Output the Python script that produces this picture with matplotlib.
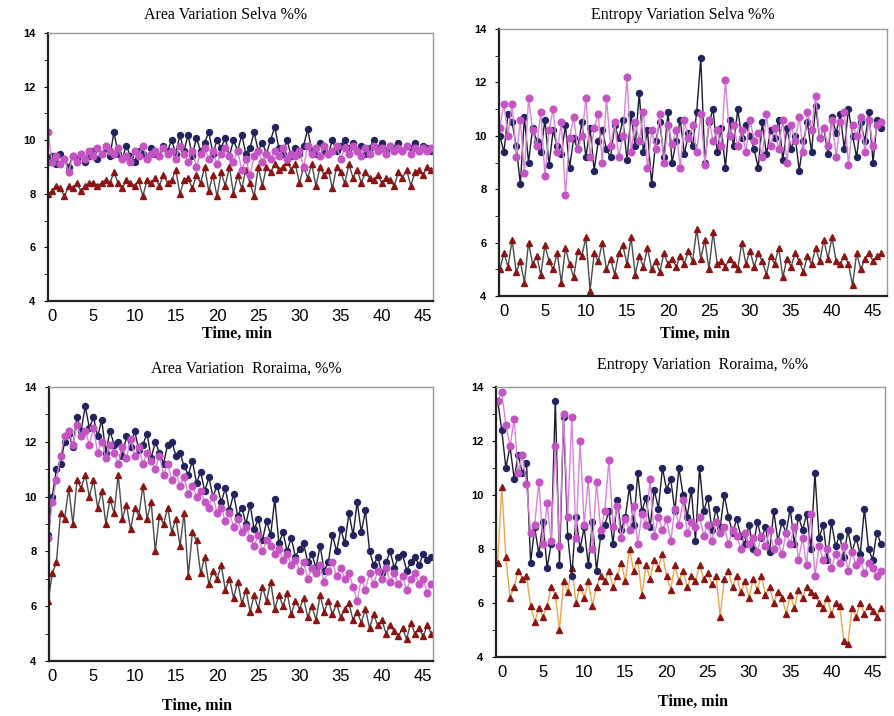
import matplotlib
matplotlib.use("Agg")
import matplotlib.pyplot as plt
import numpy as np

# sampled every 0.5 min starting at t = -0.5
area_selva_blue = [9.2, 9.4, 9.1, 9.5, 9.3, 9.0, 9.4, 9.3, 9.5, 9.2, 9.4, 9.6, 9.3, 9.5, 9.7, 9.4, 10.3, 9.5, 9.3, 9.8,
                   9.4, 9.2, 9.6, 9.5, 9.3, 9.7, 9.5, 9.4, 9.8, 9.6, 10.0, 9.5, 10.2, 9.6, 10.2, 9.4, 10.1, 9.6, 9.9, 10.3,
                   9.5, 10.0, 9.7, 10.1, 9.4, 10.0, 9.6, 10.2, 9.5, 9.7, 10.3, 9.6, 9.9, 9.5, 10.0, 10.5, 9.7, 9.5, 10.0, 9.4,
                   9.7, 9.5, 9.8, 10.4, 9.6, 9.5, 9.9, 9.6, 9.5, 10.0, 9.6, 9.8, 10.0, 9.7, 9.9, 9.6, 9.8, 9.5, 9.7, 10.0,
                   9.7, 9.9, 9.6, 9.8, 9.7, 9.9, 9.6, 9.8, 9.7, 9.9, 9.6, 9.8, 9.7, 9.6]
area_selva_pink = [10.3, 9.2, 9.4, 9.1, 9.3, 8.8, 9.4, 9.2, 9.5, 9.3, 9.6, 9.4, 9.7, 9.5, 9.8, 9.6, 9.5, 9.7, 9.3, 9.4,
                   9.2, 9.6, 9.4, 9.8, 9.3, 9.5, 9.6, 9.4, 9.7, 9.5, 9.6, 9.3, 9.8, 9.5, 9.2, 9.6, 9.0, 9.5, 9.7, 9.3,
                   9.6, 9.1, 9.5, 9.7, 9.4, 9.2, 9.6, 8.9, 9.3, 8.7, 9.4, 9.6, 9.2, 9.5, 9.3, 9.6, 9.4, 9.7, 9.3, 9.5,
                   9.4, 9.6, 9.0, 9.8, 9.5, 9.7, 9.4, 9.8, 9.5, 9.6, 9.8, 9.3, 9.7, 9.5, 9.8, 9.6, 9.4, 9.7, 9.5, 9.8,
                   9.6, 9.7, 9.5, 9.8, 9.6, 9.7, 9.6, 9.8, 9.5, 9.7, 9.6, 9.7, 9.6, 9.7]
area_selva_red = [8.0, 8.1, 8.3, 8.2, 7.9, 8.3, 8.2, 8.4, 8.1, 8.3, 8.4, 8.4, 8.3, 8.4, 8.5, 8.4, 8.8, 8.4, 8.2, 8.5,
                  8.4, 8.3, 8.5, 7.9, 8.5, 8.4, 8.6, 8.3, 8.7, 8.4, 8.5, 8.9, 8.0, 8.5, 8.6, 8.2, 8.7, 8.4, 9.0, 8.1,
                  8.7, 7.9, 8.8, 8.3, 9.0, 8.0, 8.7, 8.2, 8.9, 8.4, 7.9, 9.0, 8.3, 9.0, 8.8, 9.1, 8.9, 9.0, 9.2, 8.9,
                  9.1, 8.4, 9.0, 8.6, 9.1, 8.3, 9.0, 8.7, 8.9, 8.2, 9.0, 8.8, 8.4, 9.1, 8.6, 8.9, 8.4, 8.8, 8.6, 8.5,
                  8.7, 8.4, 8.6, 8.5, 8.3, 8.8, 8.6, 8.9, 8.3, 8.8, 8.9, 8.7, 9.0, 8.9]

entropy_selva_blue = [10.0, 9.4, 10.8, 10.5, 9.6, 8.2, 10.7, 9.0, 10.3, 9.8, 9.4, 10.6, 8.9, 10.2, 9.6, 9.3, 10.4, 8.8,
                      9.9, 9.5, 10.5, 9.2, 10.3, 8.7, 9.8, 10.2, 9.5, 9.2, 10.4, 9.9, 10.6, 9.1, 10.8, 9.6, 11.6, 9.4,
                      10.2, 8.2, 9.8, 10.5, 9.2, 10.9, 9.0, 9.8, 10.6, 9.3, 10.1, 9.6, 10.9, 12.9, 9.0, 10.5, 11.0, 9.4,
                      10.3, 8.8, 10.6, 9.6, 11.0, 9.9, 10.4, 10.0, 9.5, 8.8, 10.5, 9.3, 10.2, 9.9, 10.6, 9.1, 10.3, 9.5,
                      10.0, 8.7, 9.8, 10.5, 9.4, 11.1, 9.9, 10.3, 9.3, 10.7, 10.1, 10.8, 9.5, 11.0, 10.0, 9.2, 10.5, 9.8,
                      10.9, 9.0, 10.6, 10.3]
entropy_selva_pink = [10.3, 11.2, 10.0, 11.2, 9.2, 10.6, 8.6, 11.4, 10.2, 9.6, 10.9, 8.5, 10.2, 11.0, 9.4, 10.5, 7.8, 9.9,
                      10.7, 9.5, 10.0, 11.4, 9.2, 10.3, 10.8, 9.0, 11.4, 9.6, 10.5, 9.2, 10.0, 12.2, 9.4, 10.5, 9.8, 10.9,
                      8.8, 10.2, 9.5, 10.8, 9.0, 10.4, 9.7, 10.2, 8.8, 10.6, 9.9, 10.4, 9.4, 10.8, 8.9, 10.6, 9.8, 10.2,
                      9.6, 12.1, 10.0, 10.4, 9.6, 10.2, 9.4, 10.6, 9.8, 10.1, 9.2, 10.8, 9.6, 10.3, 9.5, 10.6, 9.0, 10.4,
                      9.8, 10.7, 9.4, 10.9, 10.2, 11.5, 9.9, 10.3, 9.6, 10.6, 9.2, 10.5, 10.9, 8.9, 10.4, 10.0, 10.7, 9.4,
                      10.6, 9.6, 10.4, 10.5]
entropy_selva_red = [5.0, 5.6, 5.1, 6.1, 4.9, 5.3, 4.5, 6.0, 5.2, 5.5, 4.8, 5.9, 5.3, 5.0, 5.6, 4.5, 5.8, 5.2, 4.7, 5.7,
                     5.5, 6.2, 4.2, 5.6, 5.3, 6.0, 5.0, 5.4, 4.8, 5.6, 5.9, 5.2, 6.2, 4.8, 5.5, 5.1, 5.8, 5.0, 5.3, 4.9,
                     5.6, 5.2, 5.4, 5.1, 5.5, 5.2, 5.7, 5.3, 6.5, 5.4, 6.1, 5.0, 6.4, 5.2, 5.3, 5.1, 5.4, 5.2, 5.0, 6.0,
                     5.2, 5.7, 5.1, 5.6, 5.3, 4.8, 5.5, 5.2, 5.8, 4.7, 5.4, 5.1, 5.6, 5.3, 4.9, 5.5, 5.2, 5.8, 5.3, 6.1,
                     5.4, 6.2, 5.3, 5.2, 5.5, 5.2, 4.4, 5.6, 5.0, 5.4, 5.6, 5.3, 5.5, 5.6]

area_roraima_blue = [8.6, 10.0, 11.0, 11.2, 12.0, 12.3, 11.8, 12.9, 12.4, 13.3, 12.5, 12.9, 12.2, 12.8, 11.6, 12.4, 11.9,
                     12.0, 11.5, 12.2, 11.8, 12.4, 11.7, 11.9, 12.3, 11.4, 12.0, 11.6, 11.2, 11.9, 12.0, 11.5, 11.6,
                     11.1, 10.8, 11.3, 10.5, 10.9, 10.2, 10.7, 10.0, 10.4, 9.8, 10.3, 9.5, 10.1, 9.3, 9.6, 9.0, 9.7,
                     8.8, 9.2, 8.4, 9.1, 8.6, 9.9, 8.3, 8.7, 8.0, 8.5, 7.8, 8.1, 8.3, 7.6, 7.9, 7.4, 8.2, 7.3, 7.6,
                     8.6, 8.0, 8.8, 8.3, 9.4, 8.6, 9.8, 8.7, 9.5, 8.0, 7.5, 7.8, 7.2, 7.6, 8.0, 7.4, 7.8, 7.9, 7.3,
                     7.6, 7.8, 7.5, 7.9, 7.7, 7.8]
area_roraima_pink = [8.5, 9.8, 10.6, 11.5, 12.2, 12.4, 11.9, 12.6, 12.2, 12.4, 11.9, 12.5, 11.6, 12.0, 11.4, 11.9, 11.6,
                     11.2, 11.8, 11.4, 12.1, 11.5, 11.8, 11.2, 11.6, 11.3, 11.0, 11.5, 10.8, 11.2, 10.6, 10.9, 10.4,
                     10.7, 10.1, 10.4, 10.0, 10.2, 9.8, 9.6, 10.0, 9.4, 9.6, 9.1, 9.4, 8.9, 9.2, 8.7, 8.9, 8.5, 8.2,
                     8.6, 8.0, 8.4, 8.2, 7.9, 8.1, 7.7, 7.9, 7.5, 7.7, 7.3, 7.6, 7.0, 7.4, 7.2, 7.5, 6.9, 7.3, 7.6,
                     7.1, 7.4, 7.0, 7.2, 6.7, 6.2, 7.0, 6.6, 7.2, 6.8, 7.3, 7.0, 7.4, 6.9, 7.2, 6.8, 7.1, 6.6, 7.0,
                     7.2, 6.8, 7.0, 6.5, 6.8]
area_roraima_red = [6.2, 7.2, 7.6, 9.4, 9.2, 10.3, 9.0, 10.6, 10.3, 10.8, 10.0, 10.6, 9.6, 10.2, 9.0, 9.9, 9.4, 10.8,
                    9.2, 9.7, 8.8, 9.6, 9.3, 10.4, 9.2, 9.8, 8.0, 9.3, 9.0, 9.6, 8.7, 9.2, 8.2, 9.4, 7.1, 8.7, 8.4,
                    7.2, 7.8, 6.8, 7.3, 7.0, 7.5, 6.6, 7.0, 6.3, 6.9, 6.1, 6.6, 5.8, 6.4, 5.9, 6.7, 6.2, 6.9, 5.9,
                    6.4, 6.0, 6.5, 5.7, 6.2, 5.9, 6.3, 5.6, 6.0, 5.5, 6.4, 5.8, 6.2, 5.7, 6.1, 5.6, 5.9, 6.1, 5.5,
                    5.8, 5.4, 5.9, 5.2, 5.7, 5.3, 5.5, 5.0, 5.3, 5.1, 4.9, 5.2, 4.8, 5.4, 5.0, 5.2, 4.9, 5.3, 5.0]

entropy_roraima_blue = [13.5, 12.4, 11.0, 11.8, 10.6, 11.5, 10.8, 11.2, 7.5, 8.8, 7.8, 9.0, 7.3, 8.2, 13.5, 7.4, 12.9,
                        8.5, 7.0, 9.2, 8.0, 8.8, 7.4, 9.0, 7.2, 8.5, 8.9, 9.4, 8.2, 9.8, 8.7, 9.2, 10.3, 8.9, 10.8,
                        9.4, 9.9, 8.8, 10.2, 9.5, 11.0, 10.2, 10.6, 9.4, 11.0, 10.0, 9.2, 10.2, 8.3, 11.0, 9.4, 9.9,
                        8.7, 9.5, 8.8, 10.0, 9.2, 8.6, 9.1, 8.5, 8.2, 8.9, 8.0, 9.0, 8.4, 8.8, 7.9, 9.4, 8.3, 9.0,
                        8.6, 9.5, 8.2, 9.2, 8.7, 9.3, 8.0, 10.8, 8.4, 8.9, 7.6, 9.0, 8.1, 8.5, 7.7, 8.7, 7.9, 8.4,
                        7.8, 9.5, 8.0, 7.6, 8.6, 8.2]
entropy_roraima_pink = [13.5, 13.8, 12.6, 11.8, 12.8, 10.8, 11.5, 10.4, 8.6, 8.9, 10.5, 8.2, 9.7, 8.3, 11.8, 8.1, 13.0,
                        9.2, 12.9, 8.4, 12.0, 8.9, 10.6, 8.0, 10.5, 8.7, 9.4, 11.3, 8.8, 9.6, 8.4, 9.1, 8.7, 9.6, 8.2,
                        9.3, 8.9, 10.6, 8.5, 9.2, 8.7, 9.1, 8.3, 9.5, 8.9, 9.8, 8.6, 9.0, 8.8, 9.2, 8.5, 8.9, 8.3,
                        9.0, 8.6, 8.8, 8.2, 8.7, 8.5, 8.0, 8.6, 8.2, 8.4, 7.9, 8.5, 8.1, 8.7, 8.0, 8.3, 7.8, 8.6,
                        8.2, 8.8, 7.6, 8.4, 7.4, 9.3, 7.0, 8.1, 7.6, 8.0, 7.3, 7.8, 7.5, 8.1, 7.2, 7.9, 7.4, 7.6,
                        7.1, 7.5, 7.3, 7.0, 7.2]
entropy_roraima_red = [7.5, 10.3, 7.7, 6.2, 6.6, 7.2, 6.9, 7.0, 5.9, 5.3, 5.8, 5.5, 5.9, 6.6, 6.3, 5.0, 6.8, 6.4, 7.3,
                       6.0, 6.6, 6.2, 6.8, 5.9, 6.6, 7.0, 6.8, 7.2, 6.6, 7.0, 7.5, 6.8, 8.0, 7.2, 7.6, 6.3, 7.4, 6.9,
                       7.6, 7.3, 7.8, 7.0, 6.5, 7.4, 6.8, 7.2, 6.6, 7.0, 6.8, 7.4, 6.9, 7.1, 6.7, 7.0, 5.5, 6.9, 7.2,
                       6.6, 7.0, 6.4, 6.8, 6.2, 6.9, 6.5, 7.0, 6.3, 6.6, 6.0, 6.4, 6.2, 5.6, 6.3, 5.8, 6.5, 6.2, 6.6,
                       6.4, 6.3, 6.0, 5.8, 6.2, 5.6, 6.0, 5.9, 4.6, 4.5, 5.8, 5.5, 6.0, 5.6, 5.9, 5.7, 5.5, 5.8]

titles = ["Area Variation Selva %%", "Entropy Variation Selva %%",
          "Area Variation  Roraima, %%", "Entropy Variation  Roraima, %%"]

fig = plt.figure(figsize=(8.95, 7.16), dpi=100)

# axes boxes in pixels: left, top, right, bottom
boxes = [(48, 33, 433, 301), (499, 29, 887, 296), (49, 387, 433, 661), (496, 387, 885, 657)]
xlims = [(-0.5, 46.2), (-0.6, 46.7), (-0.4, 46.2), (-0.7, 46.5)]
title_xy = [(226, 15), (683, 15), (246, 369), (703, 365)]
xlabel_xy = [(237, 334), (695, 334), (197, 706), (693, 702)]

panels = [
    (area_selva_red, area_selva_blue, area_selva_pink, '#4a4a4a'),
    (entropy_selva_red, entropy_selva_blue, entropy_selva_pink, '#4a4a4a'),
    (area_roraima_red, area_roraima_blue, area_roraima_pink, '#4a4a4a'),
    (entropy_roraima_red, entropy_roraima_blue, entropy_roraima_pink, '#e8a850'),
]

W, H = 895, 716
for i, (red, blue, pink, redline) in enumerate(panels):
    l, t, r, b = boxes[i]
    ax = fig.add_axes([l / W, 1 - b / H, (r - l) / W, (b - t) / H])
    for vals, lc, mc, mk, ms in [(red, redline, '#8b1414', '^', 4.6),
                                 (blue, '#1c1c30', '#23235e', 'o', 4.3),
                                 (pink, '#d884d8', '#c454c4', 'o', 4.8)]:
        tt = np.arange(len(vals)) * 0.5 - 0.5
        ax.plot(tt, vals, color=lc, lw=1.0, marker=mk, ms=ms, mfc=mc, mec=mc)
    ax.set_xlim(*xlims[i])
    ax.set_ylim(4, 14)
    ax.set_yticks([4, 6, 8, 10, 12, 14])
    ax.set_yticks([5, 7, 9, 11, 13], minor=True)
    ax.set_xticks(range(0, 46, 5))
    ax.tick_params(axis='x', length=0, pad=6, labelsize=12)
    ax.tick_params(axis='y', which='both', length=3, direction='out', pad=6, labelsize=8)
    for lab in ax.get_yticklabels():
        lab.set_fontweight('bold')
        lab.set_family('Liberation Sans')
    for lab in ax.get_xticklabels():
        lab.set_family('Liberation Sans')
    for s in ['left', 'bottom']:
        ax.spines[s].set_linewidth(1.6)
        ax.spines[s].set_color('#222222')
    for s in ['top', 'right']:
        ax.spines[s].set_linewidth(1.0)
        ax.spines[s].set_color('#999999')
    fig.text(title_xy[i][0] / W, 1 - title_xy[i][1] / H, titles[i], ha='center', va='center',
             family='Liberation Serif', fontsize=11.5)
    fig.text(xlabel_xy[i][0] / W, 1 - xlabel_xy[i][1] / H, "Time, min", ha='center', va='center',
             family='Liberation Serif', fontsize=11.5, fontweight='bold')

fig.savefig("out.png", dpi=100)
